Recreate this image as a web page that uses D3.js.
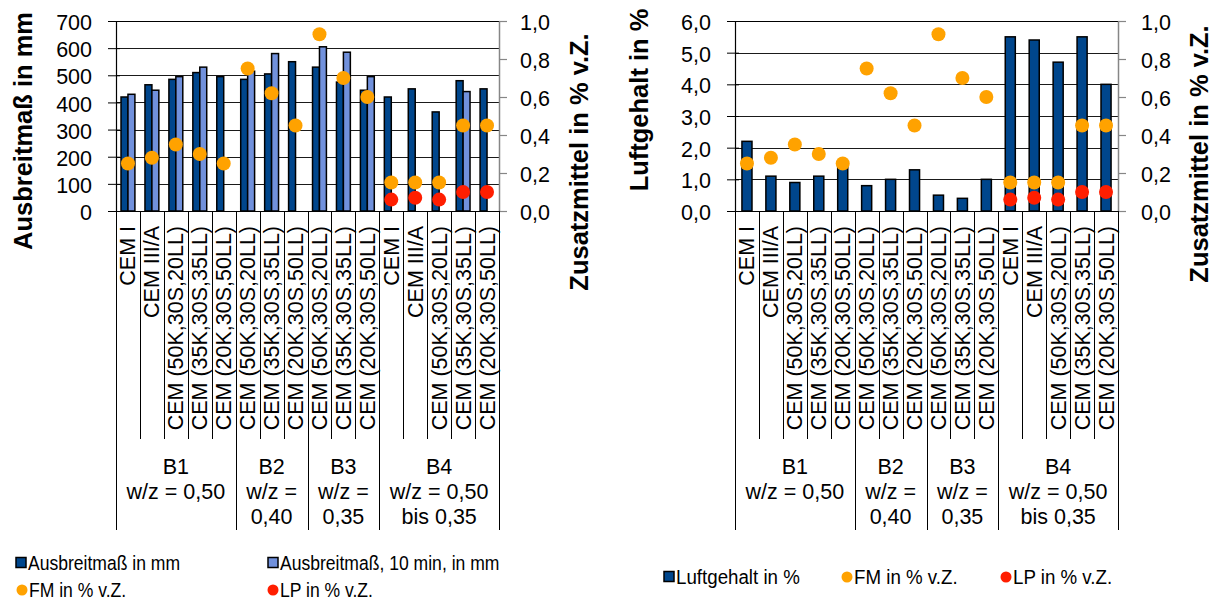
<!DOCTYPE html>
<html>
<head>
<meta charset="utf-8">
<script src="https://cdn.jsdelivr.net/npm/d3@7"></script>
<style>
  html, body { margin: 0; padding: 0; background: #fff; }
  svg { display: block; }
</style>
</head>
<body>
<svg id="chart" width="1214" height="600"></svg>
<script>
// Mix designs (categories) and their grouping
const categories = [
  "CEM I", "CEM III/A", "CEM (50K,30S,20LL)", "CEM (35K,30S,35LL)", "CEM (20K,30S,50LL)",
  "CEM (50K,30S,20LL)", "CEM (35K,30S,35LL)", "CEM (20K,30S,50LL)",
  "CEM (50K,30S,20LL)", "CEM (35K,30S,35LL)", "CEM (20K,30S,50LL)",
  "CEM I", "CEM III/A", "CEM (50K,30S,20LL)", "CEM (35K,30S,35LL)", "CEM (20K,30S,50LL)"
];
const groupSizes = [5, 3, 3, 5];
const groupLabels = [
  ["B1", "w/z = 0,50"],
  ["B2", "w/z =", "0,40"],
  ["B3", "w/z =", "0,35"],
  ["B4", "w/z = 0,50", "bis 0,35"]
];

// Measured values
const ausbreitmass   = [420, 465, 485, 510, 495, 485, 505, 550, 530, 475, 445, 420, 450, 365, 480, 450];
const ausbreitmass10 = [430, 445, 495, 530, null, 515, 580, null, 605, 585, 495, null, null, null, 440, null];
const luftgehalt     = [2.2, 1.1, 0.9, 1.1, 1.4, 0.8, 1.0, 1.3, 0.5, 0.4, 1.0, 5.5, 5.4, 4.7, 5.5, 4.0];
const fm             = [0.25, 0.28, 0.35, 0.30, 0.25, 0.75, 0.62, 0.45, 0.93, 0.70, 0.60, 0.15, 0.15, 0.15, 0.45, 0.45];
const lp             = [null, null, null, null, null, null, null, null, null, null, null, 0.06, 0.07, 0.06, 0.10, 0.10];

// Axis ticks
const ticksAusbreit = [0, 100, 200, 300, 400, 500, 600, 700];
const ticksLuft     = [0, 1, 2, 3, 4, 5, 6];
const ticksZusatz   = [0, 0.2, 0.4, 0.6, 0.8, 1.0];

const FONT = "'Liberation Sans', Arial, Helvetica, sans-serif";
const C_DARK = "#00468C", C_LIGHT = "#7191DC", C_FM = "#FFA200", C_LP = "#FF1E00";
const GRAY = "#868686";
const comma1 = d => d3.format(".1f")(d).replace(".", ",");

const svg = d3.select("#chart").style("font-family", FONT);

function panel(cfg) {
  const g = svg.append("g");
  const top = 21, bottom = 211;
  const x = d3.scaleBand().domain(d3.range(categories.length)).range([cfg.x0, cfg.x1]).paddingInner(0).paddingOuter(0);
  const bw = x.bandwidth();
  const y = d3.scaleLinear().domain([0, cfg.yMax]).range([bottom, top]);
  const y2 = d3.scaleLinear().domain([0, 1]).range([bottom, top]);

  // gridlines
  g.append("g").selectAll("line")
    .data(cfg.yTicks.filter(t => t > 0 && t < cfg.yMax))
    .join("line")
    .attr("x1", cfg.x0).attr("x2", cfg.x1)
    .attr("y1", d => Math.round(y(d)) + 0.5).attr("y2", d => Math.round(y(d)) + 0.5)
    .attr("stroke", "#1a1a1a").attr("stroke-width", 1);
  // plot frame top
  g.append("line").attr("x1", cfg.x0).attr("x2", cfg.x1)
    .attr("y1", top + 0.5).attr("y2", top + 0.5).attr("stroke", "#000").attr("stroke-width", 1.2);

  // bars
  cfg.bars.forEach(b => {
    g.append("g").selectAll("rect")
      .data(b.values.map((v, i) => ({ v, i })).filter(d => d.v != null))
      .join("rect")
      .attr("x", d => x(d.i) + b.offset * bw)
      .attr("width", b.width * bw)
      .attr("y", d => y(d.v))
      .attr("height", d => y(0) - y(d.v))
      .attr("fill", b.color)
      .attr("stroke", "#000").attr("stroke-width", 1.5);
  });

  // left axis
  const ax = g.append("g").attr("transform", `translate(${cfg.x0},0)`)
    .call(d3.axisLeft(y).tickValues(cfg.yTicks).tickFormat(cfg.fmt).tickSizeInner(8).tickSizeOuter(0).tickPadding(16));
  ax.select(".domain").attr("stroke", "#000").attr("stroke-width", 1.2);
  ax.selectAll(".tick line").attr("x1", 4).attr("stroke", "#000");
  ax.selectAll(".tick text").attr("font-family", FONT).attr("font-size", 21.5).attr("fill", "#000").attr("dy", "0.4em");

  // right axis
  const ar = g.append("g").attr("transform", `translate(${cfg.x1},0)`)
    .call(d3.axisRight(y2).tickValues(ticksZusatz).tickFormat(comma1).tickSizeInner(8).tickSizeOuter(0).tickPadding(cfg.rPad));
  ar.select(".domain").attr("stroke", GRAY).attr("stroke-width", 1.5);
  ar.selectAll(".tick line").attr("stroke", GRAY).attr("stroke-width", 1.2);
  ar.selectAll(".tick text").attr("font-family", FONT).attr("font-size", 21.5).attr("fill", "#000").attr("dy", "0.4em");

  // bottom axis line
  g.append("line").attr("x1", cfg.x0).attr("x2", cfg.x1)
    .attr("y1", bottom + 0.5).attr("y2", bottom + 0.5).attr("stroke", "#000").attr("stroke-width", 1.2);

  // category separators (longer at group boundaries)
  const bounds = new Set([0]);
  let acc = 0;
  groupSizes.forEach(n => { acc += n; bounds.add(acc); });
  g.append("g").selectAll("line")
    .data(d3.range(categories.length + 1))
    .join("line")
    .attr("x1", i => Math.round(cfg.x0 + i * bw) + 0.5)
    .attr("x2", i => Math.round(cfg.x0 + i * bw) + 0.5)
    .attr("y1", bottom)
    .attr("y2", i => bounds.has(i) ? 530 : 439)
    .attr("stroke", "#000").attr("stroke-width", 1);

  // category labels, rotated
  g.append("g").selectAll("text")
    .data(categories)
    .join("text")
    .attr("transform", (d, i) => `translate(${x(i) + bw / 2 + 7.5},226) rotate(-90)`)
    .attr("text-anchor", "end")
    .attr("font-size", 21.5)
    .text(d => d);

  // group labels
  let start = 0;
  groupSizes.forEach((n, gi) => {
    const cx = cfg.x0 + (start + n / 2) * bw;
    const t = g.append("text").attr("text-anchor", "middle").attr("font-size", 21.5);
    groupLabels[gi].forEach((line, li) => {
      t.append("tspan").attr("x", cx).attr("y", [474, 499, 524][li]).text(line);
    });
    start += n;
  });

  // secondary series: dots
  const dots = (vals, color) => g.append("g").selectAll("circle")
    .data(vals.map((v, i) => ({ v, i })).filter(d => d.v != null))
    .join("circle")
    .attr("cx", d => x(d.i) + bw / 2)
    .attr("cy", d => y2(d.v))
    .attr("r", 7)
    .attr("fill", color);
  dots(fm, C_FM);
  dots(lp, C_LP);

  // axis titles
  const title = (txt, bx, cy, size) => g.append("text")
    .attr("transform", `translate(${bx},${cy}) rotate(-90)`)
    .attr("text-anchor", "middle")
    .attr("font-weight", "bold")
    .attr("font-size", size)
    .text(txt);
  title(cfg.leftTitle, cfg.ltX, cfg.ltY, 25.5);
  title("Zusatzmittel in % v.Z.", cfg.rtX, cfg.rtY, 25.5);
}

panel({
  x0: 116, x1: 499, yMax: 700, yTicks: ticksAusbreit, fmt: d => d, rPad: 13,
  bars: [
    { values: ausbreitmass, color: C_DARK, offset: 0.21, width: 0.29 },
    { values: ausbreitmass10, color: C_LIGHT, offset: 0.50, width: 0.29 }
  ],
  leftTitle: "Ausbreitmaß in mm", ltX: 31.5, ltY: 131,
  rtX: 588, rtY: 162
});

panel({
  x0: 735, x1: 1118, yMax: 6, yTicks: ticksLuft, fmt: comma1, rPad: 15,
  bars: [
    { values: luftgehalt, color: C_DARK, offset: 0.29, width: 0.42 }
  ],
  leftTitle: "Luftgehalt in %", ltX: 648, ltY: 100,
  rtX: 1208, rtY: 154
});

// legends (slightly condensed text)
const legend = svg.append("g").attr("font-size", 19.5);
function legItem(kind, color, cx, base, label, sx) {
  if (kind === "square") {
    legend.append("rect").attr("x", cx - 5).attr("y", base - 12.5).attr("width", 10).attr("height", 10)
      .attr("fill", color).attr("stroke", "#000").attr("stroke-width", 1.5);
  } else {
    legend.append("circle").attr("cx", cx).attr("cy", base - 7).attr("r", 5.5).attr("fill", color);
  }
  legend.append("text").attr("transform", `translate(${cx + 7},${base}) scale(${sx},1)`).text(label);
}
legItem("square", C_DARK, 21, 570, "Ausbreitmaß in mm", 0.9);
legItem("square", C_LIGHT, 273, 570, "Ausbreitmaß, 10 min, in mm", 0.9);
legItem("circle", C_FM, 22, 597, "FM in % v.Z.", 0.9);
legItem("circle", C_LP, 273, 597, "LP in % v.Z.", 0.9);

legItem("square", C_DARK, 669, 584, "Luftgehalt in %", 0.96);
legItem("circle", C_FM, 847, 584, "FM in % v.Z.", 0.96);
legItem("circle", C_LP, 1006, 584, "LP in % v.Z.", 0.96);
</script>
</body>
</html>
